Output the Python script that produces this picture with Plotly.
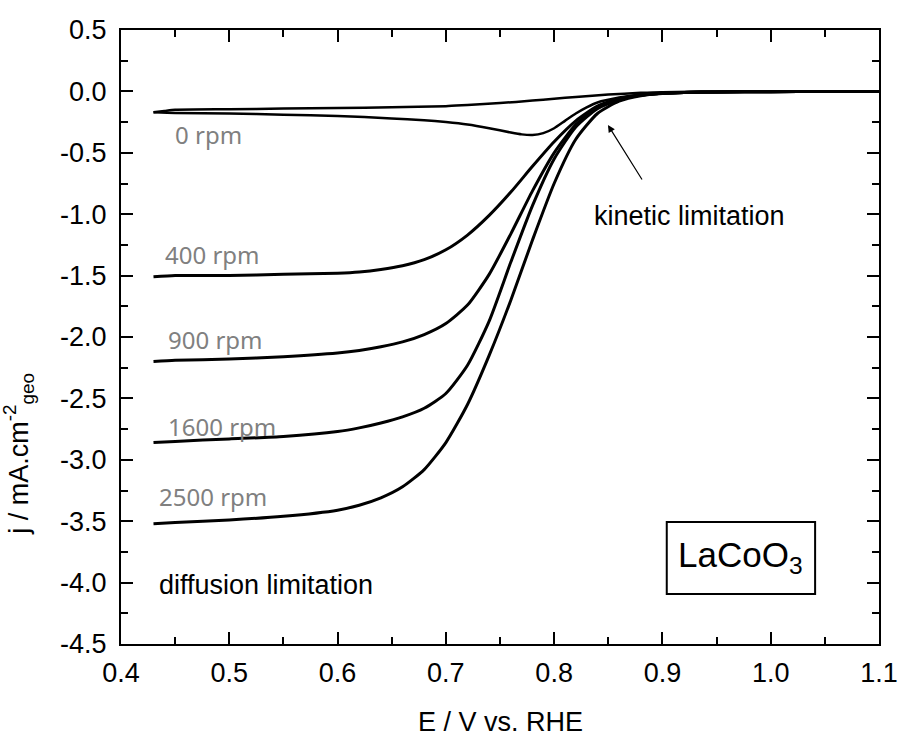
import plotly.graph_objects as go

# ---------------- data ----------------
E_0rpm_cath = [0.43, 0.45, 0.50, 0.55, 0.60, 0.65, 0.68, 0.70, 0.72, 0.74, 0.76, 0.77, 0.78, 0.79, 0.80, 0.81, 0.82, 0.83, 0.84, 0.86, 0.88, 0.90, 0.95, 1.00, 1.05, 1.10]
j_0rpm_cath = [-0.17, -0.175, -0.18, -0.19, -0.20, -0.22, -0.235, -0.25, -0.27, -0.30, -0.335, -0.35, -0.355, -0.34, -0.30, -0.24, -0.18, -0.13, -0.09, -0.05, -0.025, -0.012, -0.004, -0.002, 0.0, 0.0]
E_0rpm_anod = [0.43, 0.44, 0.45, 0.50, 0.55, 0.60, 0.65, 0.70, 0.72, 0.75, 0.78, 0.80, 0.82, 0.85, 0.88, 0.90, 0.95, 1.00, 1.10]
j_0rpm_anod = [-0.17, -0.16, -0.15, -0.145, -0.14, -0.135, -0.13, -0.12, -0.11, -0.095, -0.075, -0.06, -0.045, -0.025, -0.012, -0.006, -0.002, 0.0, 0.0]

E_rde = [0.43, 0.45, 0.50, 0.55, 0.60, 0.62, 0.64, 0.66, 0.68, 0.70, 0.72, 0.74, 0.76, 0.78, 0.80, 0.82, 0.84, 0.86, 0.88, 0.90, 0.92, 0.95, 1.00, 1.05, 1.10]
j_400 = [-1.51, -1.50, -1.50, -1.49, -1.48, -1.47, -1.45, -1.42, -1.37, -1.29, -1.17, -1.01, -0.82, -0.61, -0.41, -0.24, -0.12, -0.06, -0.03, -0.015, -0.008, -0.004, -0.002, 0.0, 0.0]
j_900 = [-2.20, -2.19, -2.18, -2.16, -2.13, -2.11, -2.08, -2.04, -1.98, -1.89, -1.74, -1.49, -1.16, -0.81, -0.50, -0.27, -0.13, -0.065, -0.03, -0.015, -0.008, -0.004, -0.002, 0.0, 0.0]
j_1600 = [-2.86, -2.85, -2.83, -2.81, -2.77, -2.74, -2.70, -2.65, -2.58, -2.46, -2.23, -1.87, -1.39, -0.93, -0.55, -0.29, -0.14, -0.07, -0.03, -0.015, -0.008, -0.004, -0.002, 0.0, 0.0]
j_2500 = [-3.52, -3.51, -3.49, -3.46, -3.41, -3.37, -3.31, -3.22, -3.08, -2.86, -2.55, -2.15, -1.70, -1.21, -0.75, -0.39, -0.18, -0.08, -0.035, -0.017, -0.009, -0.004, -0.002, 0.0, 0.0]

rpm_labels = ["0 rpm", "400 rpm", "900 rpm", "1600 rpm", "2500 rpm"]
rpm_label_x = [0.448, 0.439, 0.4415, 0.4415, 0.433]
rpm_label_y = [-0.355, -1.33, -2.02, -2.73, -3.30]

x_tickvals = [0.4, 0.5, 0.6, 0.7, 0.8, 0.9, 1.0, 1.1]
x_ticktext = ["0.4", "0.5", "0.6", "0.7", "0.8", "0.9", "1.0", "1.1"]
y_tickvals = [0.5, 0.0, -0.5, -1.0, -1.5, -2.0, -2.5, -3.0, -3.5, -4.0, -4.5]
y_ticktext = ["0.5", "0.0", "-0.5", "-1.0", "-1.5", "-2.0", "-2.5", "-3.0", "-3.5", "-4.0", "-4.5"]

# ---------------- figure ----------------
fig = go.Figure()
line = dict(color="black", width=3, shape="spline", smoothing=0.6)
fig.add_trace(go.Scatter(x=E_0rpm_cath, y=j_0rpm_cath, mode="lines", line=dict(color="black", width=2.5, shape="spline", smoothing=0.6)))
fig.add_trace(go.Scatter(x=E_0rpm_anod, y=j_0rpm_anod, mode="lines", line=dict(color="black", width=2.5, shape="spline", smoothing=0.6)))
for jj in [j_400, j_900, j_1600, j_2500]:
    fig.add_trace(go.Scatter(x=E_rde, y=jj, mode="lines", line=line))

ann = []
for t, xx, yy in zip(rpm_labels, rpm_label_x, rpm_label_y):
    ann.append(dict(x=xx, y=yy, xref="x", yref="y", text=t, showarrow=False,
                    xanchor="left", yanchor="middle",
                    font=dict(family="Noto Sans", size=24, color="#808080")))
ann.append(dict(x=0.4332, y=-4.02, xref="x", yref="y", text="diffusion limitation", showarrow=False,
                xanchor="left", yanchor="middle", font=dict(family="Liberation Sans", size=27, color="black")))
ann.append(dict(x=0.835, y=-1.015, xref="x", yref="y", text="kinetic limitation", showarrow=False,
                xanchor="left", yanchor="middle", font=dict(family="Liberation Sans", size=27, color="black")))
ann.append(dict(x=0.8497, y=-0.274, xref="x", yref="y", ax=0.882, ay=-0.73, axref="x", ayref="y",
                text="", showarrow=True, arrowhead=2, arrowsize=1.2, arrowwidth=1.2, arrowcolor="black"))
ann.append(dict(x=0.9725, y=-3.79, xref="x", yref="y", text="LaCoO<sub>3</sub>", showarrow=False,
                xanchor="center", yanchor="middle", font=dict(family="Liberation Sans", size=35, color="black")))
# axis titles (plot area spans 614 px vertically, 758 px horizontally)
ann.append(dict(x=0.5, y=-0.127, xref="paper", yref="paper", text="E / V vs. RHE", showarrow=False,
                xanchor="center", yanchor="middle", font=dict(family="Liberation Sans", size=27, color="black")))
ann.append(dict(x=-0.135, y=0.174, xref="paper", yref="paper", text="j / mA.cm<sup>-2</sup><sub>geo</sub>",
                showarrow=False, textangle=-90, xanchor="center", yanchor="bottom",
                font=dict(family="Liberation Sans", size=27, color="black")))

fig.add_shape(type="rect", xref="x", yref="y", x0=0.904, x1=1.041, y0=-4.093, y1=-3.506,
              line=dict(color="black", width=2), fillcolor="rgba(0,0,0,0)")

axis_common = dict(showline=True, linecolor="black", linewidth=2, mirror="ticks",
                   ticks="inside", ticklen=12, tickwidth=2, tickcolor="black",
                   showgrid=False, zeroline=False, automargin=False,
                   tickfont=dict(family="Liberation Sans", size=27, color="black"),
                   minor=dict(ticks="inside", ticklen=7, tickwidth=2, tickcolor="black", showgrid=False))

fig.update_xaxes(range=[0.4, 1.1], tickvals=x_tickvals, ticktext=x_ticktext, ticklabelstandoff=4, **axis_common)
fig.update_yaxes(range=[-4.5, 0.5], tickvals=y_tickvals, ticktext=y_ticktext, ticklabelstandoff=7, **axis_common)
fig.update_xaxes(minor_tickvals=[0.45, 0.55, 0.65, 0.75, 0.85, 0.95, 1.05])
fig.update_yaxes(minor_tickvals=[0.25, -0.25, -0.75, -1.25, -1.75, -2.25, -2.75, -3.25, -3.75, -4.25])

fig.update_layout(width=898, height=736, margin=dict(l=121, r=19, t=30, b=92, autoexpand=False),
                  paper_bgcolor="white", plot_bgcolor="white", showlegend=False,
                  annotations=ann)

# remove the default page margin so the figure fills the window exactly
fig.write_html("out.html", config={"displayModeBar": False},
               post_script="document.body.style.margin='0';document.body.style.overflow='hidden';")
